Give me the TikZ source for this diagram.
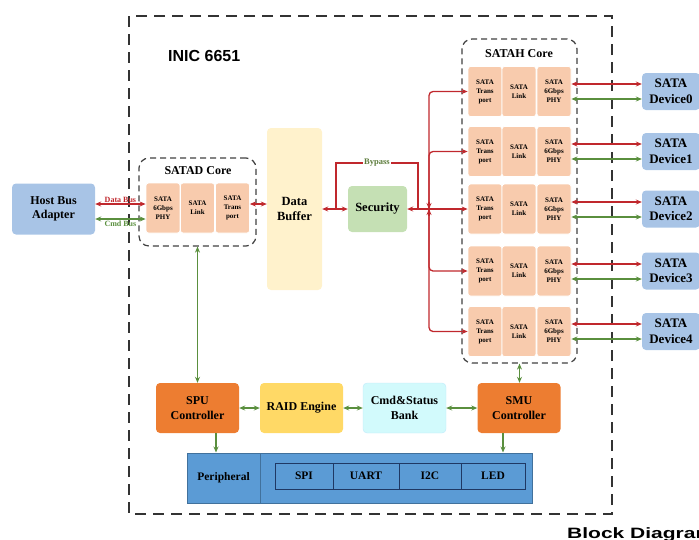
\documentclass[tikz,border=0pt]{standalone}
\usepackage{fontspec}
\setmainfont{Liberation Serif}
\newfontfamily\headfont{Liberation Sans}
\usetikzlibrary{arrows.meta}
\definecolor{busred}{HTML}{C0282D}
\definecolor{busgreen}{HTML}{5A8F3E}
\definecolor{bypassgreen}{HTML}{5B7B3A}
\definecolor{hostblue}{HTML}{A8C4E6}
\definecolor{satapeach}{HTML}{F8CBAD}
\definecolor{bufcream}{HTML}{FFF2CC}
\definecolor{secgreen}{HTML}{C5E0B4}
\definecolor{ctlorange}{HTML}{ED7D31}
\definecolor{raidgold}{HTML}{FFD966}
\definecolor{cmdcyan}{HTML}{D2FAFC}
\definecolor{perblue}{HTML}{5B9BD5}
\definecolor{perline}{HTML}{41719C}
\definecolor{cellline}{HTML}{1F3864}
\begin{document}
\begin{tikzpicture}[x=1pt, y=-1pt,
  blk/.style={rounded corners=4pt, inner sep=1pt, align=center,
    font=\bfseries\fontsize{12}{14.5}\selectfont},
  satabox/.style={fill=satapeach, draw=white, line width=0.8pt, rounded corners=2.5pt,
    minimum width=34pt, minimum height=50pt, inner sep=0pt, align=center,
    font=\bfseries\fontsize{7}{9}\selectfont},
  device/.style={blk, fill=hostblue, minimum width=58pt, minimum height=37pt,
    font=\bfseries\fontsize{13}{15.5}\selectfont},
  ctl/.style={blk, minimum width=83pt, minimum height=50pt},
  core/.style={draw=black!75, dash pattern=on 6pt off 4pt, line width=1.2pt,
    rounded corners=10pt, inner sep=0pt},
  corelabel/.style={font=\bfseries\fontsize{12}{14}\selectfont},
  databus/.style={draw=busred, line width=1.3pt, {Stealth[length=6pt, width=5pt]}-{Stealth[length=6pt, width=5pt]}},
  cmdbus/.style={draw=busgreen, line width=1.3pt, {Stealth[length=6pt, width=5pt]}-{Stealth[length=6pt, width=5pt]}},
  busline/.style={draw=busred, line width=1.3pt, rounded corners=4pt, -{Stealth[length=6pt, width=5pt]}},
  ctlline/.style={draw=busgreen, line width=1.3pt, -{Stealth[length=6pt, width=5pt]}},
  buslabel/.style={font=\bfseries\fontsize{8}{9}\selectfont, inner sep=0.8pt},
  cell/.style={draw=cellline, line width=0.8pt, minimum width=#1, minimum height=26pt,
    inner sep=0pt, font=\bfseries\fontsize{11.5}{13}\selectfont}
]
\useasboundingbox (0,0) rectangle (699,539);

% chip outline
\draw[draw=black!80, dash pattern=on 11pt off 7pt, line width=1.4pt] (129,16) rectangle (612,514);
\node[anchor=base west, inner sep=0pt, font=\headfont\bfseries\fontsize{16}{18}\selectfont] (chip) at (168,61.5) {INIC 6651};
\node[anchor=base west, inner sep=0pt, font=\headfont\bfseries\fontsize{15}{17}\selectfont] (title) at (567,538.5) {\scalebox{1.4}[1]{Block Diagram}};

% host side
\node[blk, fill=hostblue, minimum width=83pt, minimum height=51pt] (hba) at (53.5,209) {Host Bus\\Adapter};
\node[core, minimum width=117pt, minimum height=88pt] (satad) at (197.5,202) {};
\node[corelabel] (satadl) at (198,171) {SATAD Core};
\node[satabox] (dp) at (163,208) {SATA\\6Gbps\\PHY};
\node[satabox] (dl) at (197.5,208) {SATA\\Link};
\node[satabox] (dt) at (232.5,208) {SATA\\Trans\\port};
\draw[databus] ([yshift=5pt]hba.east) -- node[buslabel, above, text=busred] {Data Bus} ([yshift=5pt]hba.east -| dp.west);
\draw[cmdbus] ([yshift=-10pt]hba.east) -- node[buslabel, below, text=busgreen] {Cmd Bus} ([yshift=-10pt]hba.east -| dp.west);

% buffer and security
\node[blk, fill=bufcream, minimum width=55pt, minimum height=162pt, font=\bfseries\fontsize{12.5}{15}\selectfont] (db) at (294.5,209) {Data\\Buffer};
\node[blk, fill=secgreen, minimum width=59pt, minimum height=46pt, font=\bfseries\fontsize{12.5}{15}\selectfont] (sec) at (377.5,209) {Security};
\draw[databus] ([yshift=4pt]dt.east) -- ([yshift=4pt]dt.east -| db.west);
\draw[databus] (db.east) -- (sec.west);
\coordinate (byl) at (336,209);
\coordinate (byr) at (418,209);
\draw[draw=busred, line width=1.2pt] (byl) -- (byl |- 0,163) -- node[buslabel, fill=white, text=bypassgreen, font=\bfseries\fontsize{8.5}{10}\selectfont] {Bypass} (byr |- 0,163) -- (byr);

% device side
\node[core, minimum width=115pt, minimum height=324pt] (satah) at (519.5,201) {};
\node[corelabel] (satahl) at (519,54) {SATAH Core};

\node[satabox] (t0) at (485,91.5) {SATA\\Trans\\port};
\node[satabox] (l0) at (519,91.5) {SATA\\Link};
\node[satabox] (p0) at (554,91.5) {SATA\\6Gbps\\PHY};
\node[device] (d0) at (671,91.5) {SATA\\Device0};

\node[satabox] (t1) at (485,151.5) {SATA\\Trans\\port};
\node[satabox] (l1) at (519,151.5) {SATA\\Link};
\node[satabox] (p1) at (554,151.5) {SATA\\6Gbps\\PHY};
\node[device] (d1) at (671,151.5) {SATA\\Device1};

\node[satabox] (t2) at (485,209) {SATA\\Trans\\port};
\node[satabox] (l2) at (519,209) {SATA\\Link};
\node[satabox] (p2) at (554,209) {SATA\\6Gbps\\PHY};
\node[device] (d2) at (671,209) {SATA\\Device2};

\node[satabox] (t3) at (485,271) {SATA\\Trans\\port};
\node[satabox] (l3) at (519,271) {SATA\\Link};
\node[satabox] (p3) at (554,271) {SATA\\6Gbps\\PHY};
\node[device] (d3) at (671,271) {SATA\\Device3};

\node[satabox] (t4) at (485,331.5) {SATA\\Trans\\port};
\node[satabox] (l4) at (519,331.5) {SATA\\Link};
\node[satabox] (p4) at (554,331.5) {SATA\\6Gbps\\PHY};
\node[device] (d4) at (671,331.5) {SATA\\Device4};

\coordinate (bus) at (429,209);
\draw[databus] (sec.east) -- (t2.west);
\draw[busline] (bus) |- (t0.west);
\draw[busline] (bus) |- (t1.west);
\draw[busline] (bus) |- (t3.west);
\draw[busline] (bus) |- (t4.west);
\draw[busline] ([yshift=7pt]bus) -- (bus);
\draw[busline] ([yshift=-7pt]bus) -- (bus);

\draw[databus] ([yshift=7.5pt]p0.east) -- ([yshift=7.5pt]p0.east -| d0.west);
\draw[cmdbus] ([yshift=-7.5pt]p0.east) -- ([yshift=-7.5pt]p0.east -| d0.west);
\draw[databus] ([yshift=7.5pt]p1.east) -- ([yshift=7.5pt]p1.east -| d1.west);
\draw[cmdbus] ([yshift=-7.5pt]p1.east) -- ([yshift=-7.5pt]p1.east -| d1.west);
\draw[databus] ([yshift=7pt]p2.east) -- ([yshift=7pt]p2.east -| d2.west);
\draw[cmdbus] ([yshift=-8pt]p2.east) -- ([yshift=-8pt]p2.east -| d2.west);
\draw[databus] ([yshift=7pt]p3.east) -- ([yshift=7pt]p3.east -| d3.west);
\draw[cmdbus] ([yshift=-8pt]p3.east) -- ([yshift=-8pt]p3.east -| d3.west);
\draw[databus] ([yshift=7.5pt]p4.east) -- ([yshift=7.5pt]p4.east -| d4.west);
\draw[cmdbus] ([yshift=-7.5pt]p4.east) -- ([yshift=-7.5pt]p4.east -| d4.west);

% control
\node[ctl, fill=ctlorange] (spu) at (197.5,408) {SPU\\Controller};
\node[ctl, fill=raidgold] (raid) at (301.5,408) {RAID Engine};
\node[ctl, fill=cmdcyan, draw=cyan!25] (cmd) at (404.5,408) {Cmd\&Status\\Bank};
\node[ctl, fill=ctlorange] (smu) at (519,408) {SMU\\Controller};
\draw[cmdbus] (satad.south) -- (spu.north);
\draw[cmdbus] (satah.south) -- (satah.south |- smu.north);
\draw[cmdbus] (spu.east) -- (raid.west);
\draw[cmdbus] (raid.east) -- (cmd.west);
\draw[cmdbus] (cmd.east) -- (smu.west);

% peripheral
\node[fill=perblue, draw=perline, line width=1pt, minimum width=345pt, minimum height=50pt, inner sep=0pt] (per) at (359.5,478) {};
\draw[draw=perline, line width=1pt] (260,453) -- (260,503);
\node[font=\bfseries\fontsize{11.5}{13}\selectfont] (perl) at (223.5,478) {Peripheral};
\node[cell=58pt] (spi) at (304,476) {SPI};
\node[cell=66pt] (uart) at (366,476) {UART};
\node[cell=62pt] (i2c) at (430,476) {I2C};
\node[cell=64pt] (led) at (493,476) {LED};
\draw[ctlline] ([xshift=18.5pt]spu.south) -- ([xshift=18.5pt]spu.south |- per.north);
\draw[ctlline] ([xshift=-16pt]smu.south) -- ([xshift=-16pt]smu.south |- per.north);
\end{tikzpicture}
\end{document}
